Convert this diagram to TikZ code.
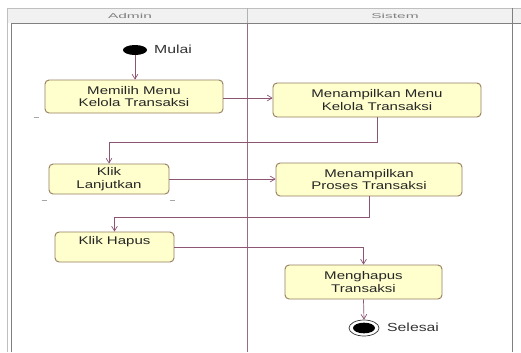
\documentclass[tikz,border=0pt]{standalone}
\usepackage{fontspec}
\setmainfont[FakeStretch=1.35]{Liberation Sans}
\newfontfamily\hdrfont[FakeStretch=2.2]{Liberation Sans}
\usetikzlibrary{shapes.geometric,arrows.meta}
\definecolor{actfill}{RGB}{255,255,206}
\definecolor{actline}{RGB}{150,125,95}
\definecolor{flowc}{RGB}{140,85,115}
\definecolor{lanec}{RGB}{150,110,135}
\definecolor{hdrfill}{RGB}{241,241,241}

\begin{document}
\begin{tikzpicture}[x=0.3mm, y=-0.3mm,
    act/.style={draw=actline, fill=actfill, rounded corners=3.5pt, line width=0.8pt,
      align=center, font=\fontsize{9.5}{11}\selectfont, text=black!85, inner sep=1pt},
    flow/.style={-{Straight Barb[length=4pt,width=5pt]}, draw=flowc, line width=0.6pt},
    lbl/.style={font=\fontsize{10}{12}\selectfont, text=black!80, anchor=west},
    hdr/.style={font=\hdrfont\fontsize{6}{7}\selectfont, text=gray},
    tick/.style={gray!70, line width=0.6pt}]
  \useasboundingbox (0,0) rectangle (521,352);

  % --- swimlane frame ---
  \fill[hdrfill] (7,8) rectangle (521,23);
  \draw[gray!50, line width=0.6pt] (7,8) -- (521,8);
  \draw[gray!50, line width=0.8pt] (7,8) -- (7,352);
  \draw[gray, line width=0.8pt] (11,352) -- (11,23) -- (521,23);
  \draw[gray, line width=0.8pt] (512,8) -- (512,352);
  \draw[gray!60, line width=0.6pt] (247,8) -- (247,23);
  \draw[lanec, line width=0.8pt] (247,23) -- (247,352);
  \node[hdr] (hadmin) at (130,15.5) {Admin};
  \node[hdr] (hsistem) at (395,15.5) {Sistem};

  % --- start ---
  \node[ellipse, fill=black, minimum width=7.2mm, minimum height=3mm, inner sep=0] (start) at (135,50) {};
  \node[lbl] (mulai) at (150,49) {Mulai};

  % --- activities ---
  \node[act, minimum width=53.4mm, minimum height=9.9mm] (pilih) at (134,96.5) {Memilih Menu\\Kelola Transaksi};
  \node[act, minimum width=62.4mm, minimum height=10.2mm] (tampilmenu) at (377,100) {Menampilkan Menu\\Kelola Transaksi};
  \node[act, minimum width=36mm, minimum height=9mm] (lanjut) at (109,179) {Klik\\Lanjutkan};
  \node[act, minimum width=55.8mm, minimum height=9.9mm] (tampilproses) at (369,179.5) {Menampilkan\\Proses Transaksi};
  \node[act, minimum width=35.7mm, minimum height=9mm] (hapus) at (114.5,247) {Klik Hapus\\ \mbox{}};
  \node[act, minimum width=47.1mm, minimum height=10.2mm] (menghapus) at (363.5,282) {Menghapus\\Transaksi};

  % small marks under the boxes
  \draw[tick] ([xshift=-3.3mm,yshift=-1.2mm]pilih.south west) -- ++(5,0);
  \draw[tick] ([xshift=-2.1mm,yshift=-1.8mm]lanjut.south west) -- ++(5,0);
  \draw[tick] ([xshift=0.3mm,yshift=-1.8mm]lanjut.south east) -- ++(5,0);

  % --- end ---
  \node[ellipse, draw=black!80, line width=0.6pt, minimum width=9mm, minimum height=4.8mm, inner sep=0] (stop) at (364,328) {};
  \node[ellipse, fill=black, minimum width=6.6mm, minimum height=3.2mm, inner sep=0] (stopdot) at (stop) {};
  \node[lbl] (selesai) at (383,327) {Selesai};

  % --- flows ---
  \draw[flow] (start) -- (start |- pilih.north);
  \draw[flow] (pilih.east |- 0,98) -- (tampilmenu.west |- 0,98);
  \draw[flow] (tampilmenu.south) -- ++(0,25) -| (lanjut.north);
  \draw[flow] (lanjut.east) -- (lanjut.east -| tampilproses.west);
  \draw[flow] (tampilproses.south) -- ++(0,21) -| (hapus.north);
  \draw[flow] (hapus.east) -| (menghapus.north);
  \draw[flow] (menghapus.south) -- (stop.north);
\end{tikzpicture}
\end{document}
